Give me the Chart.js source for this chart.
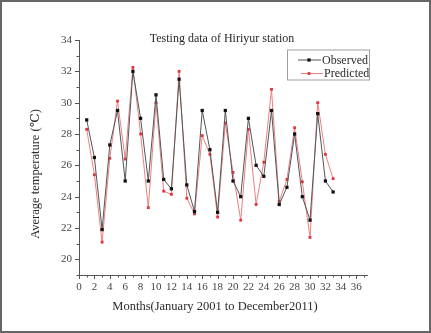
<!DOCTYPE html>
<html>
<head>
<meta charset="utf-8">
<script src="https://cdn.jsdelivr.net/npm/chart.js@4.4.1/dist/chart.umd.min.js"></script>
<style>
  html, body { margin: 0; padding: 0; background: #fff; }
  canvas { display: block; }
</style>
</head>
<body>
<canvas id="chart" width="431" height="333"></canvas>
<script>
// data
const months = [1, 2, 3, 4, 5, 6, 7, 8, 9, 10, 11, 12, 13, 14, 15, 16, 17, 18, 19, 20, 21, 22, 23, 24, 25, 26, 27, 28, 29, 30, 31, 32, 33];
const observed = [28.9, 26.5, 21.9, 27.3, 29.5, 25.0, 32.0, 29.0, 25.0, 30.5, 25.1, 24.5, 31.5, 24.75, 23.05,
  29.5, 27.0, 23.0, 29.5, 25.0, 24.0, 29.0, 26.0, 25.3, 29.5, 23.5, 24.6, 28.0, 24.0, 22.5, 29.3, 25.0, 24.3];
const predicted = [28.3, 25.4, 21.1, 26.45, 30.1, 26.4, 32.25, 28.0, 23.3, 30.0, 24.35, 24.15, 32.0, 23.9, 22.9,
  27.9, 26.7, 22.7, 28.7, 25.55, 22.5, 28.3, 23.5, 26.2, 30.85, 23.7, 25.1, 28.4, 24.95, 21.4, 30.0, 26.7, 25.15];
const xTicks = [0, 2, 4, 6, 8, 10, 12, 14, 16, 18, 20, 22, 24, 26, 28, 30, 32, 34, 36];
const yTicks = [20, 22, 24, 26, 28, 30, 32, 34];

const chartTitle = "Testing data of Hiriyur station";
const xTitle = "Months(January 2001 to December2011)";
const yTitle = "Average temperature (\u2103)";

const serif = "'Liberation Serif', 'DejaVu Serif', serif";

const observedSeries = months.map((m, i) => ({ x: m, y: observed[i] }));
const predictedSeries = months.map((m, i) => ({ x: m, y: predicted[i] }));

// frame, minor/major ticks, titles and legend
const decor = {
  id: 'decor',
  beforeDraw(chart) {
    const ctx = chart.ctx;
    ctx.save();
    ctx.fillStyle = '#fff';
    ctx.fillRect(0, 0, chart.width, chart.height);
    ctx.restore();
  },
  afterDraw(chart) {
    const ctx = chart.ctx;
    const xs = chart.scales.x, ys = chart.scales.y;
    const area = chart.chartArea;
    ctx.save();

    // outer frame
    ctx.strokeStyle = '#666';
    ctx.lineWidth = 2;
    ctx.strokeRect(1, 1, chart.width - 2, chart.height - 2);

    // ticks pointing outward
    ctx.strokeStyle = '#555';
    ctx.lineWidth = 1;
    xs.ticks.forEach(t => {
      const px = Math.round(xs.getPixelForValue(t.value)) + 0.5;
      const len = xTicks.includes(t.value) ? 4 : 2.5;
      ctx.beginPath();
      ctx.moveTo(px, area.bottom);
      ctx.lineTo(px, area.bottom + len);
      ctx.stroke();
    });
    ys.ticks.forEach(t => {
      const py = Math.round(ys.getPixelForValue(t.value)) + 0.5;
      const len = yTicks.includes(t.value) ? 4 : 2.5;
      ctx.beginPath();
      ctx.moveTo(area.left, py);
      ctx.lineTo(area.left - len, py);
      ctx.stroke();
    });

    // titles
    ctx.fillStyle = '#2a2a2a';
    ctx.textAlign = 'center';
    ctx.textBaseline = 'middle';
    ctx.font = '12px ' + serif;
    ctx.fillText(chartTitle, 222, 39);
    ctx.font = '12.5px ' + serif;
    ctx.fillText(xTitle, 215, 307);
    ctx.save();
    ctx.translate(36, 174);
    ctx.rotate(-Math.PI / 2);
    ctx.fillText(yTitle, 0, 0);
    ctx.restore();

    // legend box
    const lx = 287, ly = 49.5, lw = 82, lh = 30;
    ctx.strokeStyle = '#a0a0a0';
    ctx.lineWidth = 1;
    ctx.strokeRect(lx + 0.5, ly + 0.5, lw, lh);
    ctx.font = '12px ' + serif;
    ctx.textAlign = 'left';
    chart.data.datasets.forEach((ds, i) => {
      const cy = ly + 10.5 + i * 13.5;
      const x0 = lx + 11 + i * 3, x1 = lx + 34 + i * 2;
      ctx.strokeStyle = ds.borderColor;
      ctx.lineWidth = 1;
      ctx.beginPath();
      ctx.moveTo(x0, cy);
      ctx.lineTo(x1, cy);
      ctx.stroke();
      const s = ds.pointRadius * Math.SQRT1_2;
      ctx.fillStyle = ds.pointBackgroundColor;
      ctx.fillRect(lx + 22 - s, cy - s, 2 * s, 2 * s);
      ctx.fillStyle = '#2a2a2a';
      ctx.fillText(ds.label, x1 + 1, cy + 0.5);
    });
    ctx.restore();
  }
};

new Chart(document.getElementById('chart'), {
  type: 'line',
  data: {
    datasets: [
      {
        label: 'Observed',
        data: observedSeries,
        borderColor: '#4f5757',
        borderWidth: 1,
        pointStyle: 'rect',
        pointRadius: 2.3,
        pointBackgroundColor: '#111',
        pointBorderColor: '#111',
        pointBorderWidth: 0,
        tension: 0
      },
      {
        label: 'Predicted',
        data: predictedSeries,
        borderColor: '#ee7f82',
        borderWidth: 1,
        pointStyle: 'rect',
        pointRadius: 2.0,
        pointBackgroundColor: '#e3343a',
        pointBorderColor: '#e3343a',
        pointBorderWidth: 0,
        tension: 0
      }
    ]
  },
  options: {
    responsive: false,
    animation: false,
    layout: { padding: { top: 40, right: 64, bottom: 0, left: 0 } },
    plugins: { legend: { display: false }, title: { display: false }, tooltip: { enabled: false } },
    scales: {
      x: {
        type: 'linear',
        min: 0,
        max: 37.4,
        afterFit: s => { s.height = 58; },
        grid: { display: false, drawTicks: false },
        border: { display: true, color: '#555', width: 1 },
        ticks: {
          stepSize: 1,
          includeBounds: false,
          autoSkip: false,
          maxRotation: 0,
          padding: 6,
          color: '#444',
          font: { family: serif, size: 11 },
          callback: v => xTicks.includes(v) ? v : ''
        }
      },
      y: {
        min: 19,
        max: 34,
        afterFit: s => { s.width = 79; },
        grid: { display: false, drawTicks: false },
        border: { display: true, color: '#555', width: 1 },
        ticks: {
          stepSize: 1,
          includeBounds: false,
          autoSkip: false,
          padding: 7,
          color: '#444',
          font: { family: serif, size: 11 },
          callback: v => yTicks.includes(v) ? v : ''
        }
      }
    }
  },
  plugins: [decor]
});
</script>
</body>
</html>
